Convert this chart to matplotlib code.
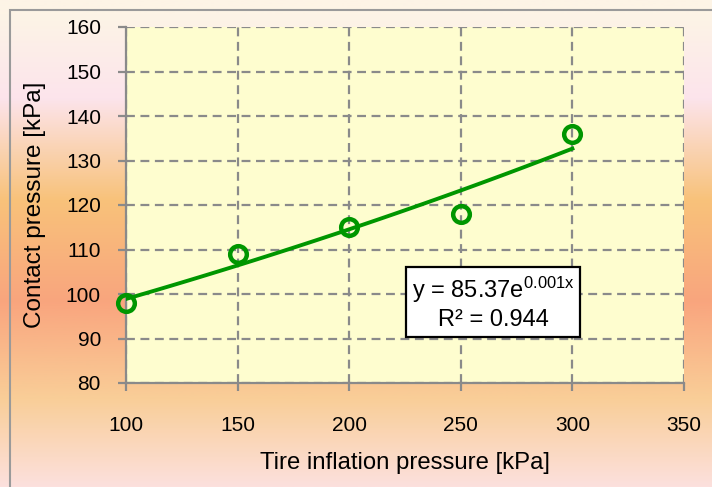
import numpy as np
import matplotlib
matplotlib.use("Agg")
import matplotlib.pyplot as plt
from matplotlib.colors import LinearSegmentedColormap
from matplotlib.patches import Rectangle

# Data
inflation = [100, 150, 200, 250, 300]
contact = [98, 109, 115, 118, 136]
x_ticks = [100, 150, 200, 250, 300, 350]
y_ticks = [80, 90, 100, 110, 120, 130, 140, 150, 160]
eq_text = "y = 85.37e$^{0.001x}$\nR² = 0.944"

plt.rcParams['font.family'] = ['Liberation Sans', 'DejaVu Sans']
plt.rcParams['mathtext.fontset'] = 'custom'
plt.rcParams['mathtext.rm'] = 'Liberation Sans'
plt.rcParams['mathtext.it'] = 'Liberation Sans'

fig = plt.figure(figsize=(7.12, 4.87), dpi=100)

# Background gradient
bg = fig.add_axes([0, 0, 1, 1], zorder=-10)
stops = [(0.0, '#FDF4E6'), (0.03, '#FDF4E6'), (0.2, '#FCE4EC'), (0.41, '#F8C27A'),
         (0.62, '#F9A57E'), (0.82, '#F9CE98'), (1.0, '#FCE0DD')]
cmap = LinearSegmentedColormap.from_list('bg', stops)
grad = np.linspace(0, 1, 256).reshape(-1, 1)
bg.imshow(grad, aspect='auto', cmap=cmap, extent=[0, 1, 0, 1], origin='upper')
bg.set_xlim(0, 1); bg.set_ylim(0, 1)
bg.axis('off')
bg.add_patch(Rectangle((10/712, -0.1), 1.2, 1 - 10/487 + 0.1, fill=False,
                       edgecolor='#9a9a9a', linewidth=1.5))

ax = fig.add_axes([126/712, 1 - 383/487, 558/712, 356/487])
ax.set_facecolor('#FEFDCF')

# Trendline (exponential fit)
b, ln_a = np.polyfit(inflation, np.log(contact), 1)
xs = np.linspace(min(inflation), max(inflation), 100)
ax.plot(xs, np.exp(ln_a) * np.exp(b * xs), color='#009600', linewidth=2.8, zorder=3)
ax.plot(inflation, contact, linestyle='none', marker='o', markersize=12,
        markerfacecolor='none', markeredgecolor='#009600', markeredgewidth=3.2,
        zorder=4, clip_on=False)

ax.set_xlim(100, 350)
ax.set_ylim(80, 160)
ax.set_xticks(x_ticks)
ax.set_yticks(y_ticks)
ax.grid(True, color='#8a8a8a', linestyle=(0, (4, 2.5)), linewidth=1.6)
ax.set_axisbelow(True)
for s in ['top', 'right']:
    ax.spines[s].set_visible(False)
for s in ['left', 'bottom']:
    ax.spines[s].set_color('#8a8a8a')
    ax.spines[s].set_linewidth(1.6)
ax.tick_params(axis='both', colors='#8a8a8a', labelcolor='black', labelsize=15,
               length=6, width=1.6, direction='out')
ax.tick_params(axis='x', pad=18)
ax.tick_params(axis='y', pad=12)

ax.set_xlabel('Tire inflation pressure [kPa]', fontsize=17.2, labelpad=12)
ax.set_ylabel('Contact pressure [kPa]', fontsize=17.5, labelpad=14)

ax.text(264.5, 98, eq_text, ha='center', va='center', fontsize=17,
        linespacing=1.2,
        bbox=dict(boxstyle='square,pad=0.25', facecolor='white', edgecolor='black', linewidth=1.6),
        zorder=5)

fig.savefig('out.png', dpi=100)
